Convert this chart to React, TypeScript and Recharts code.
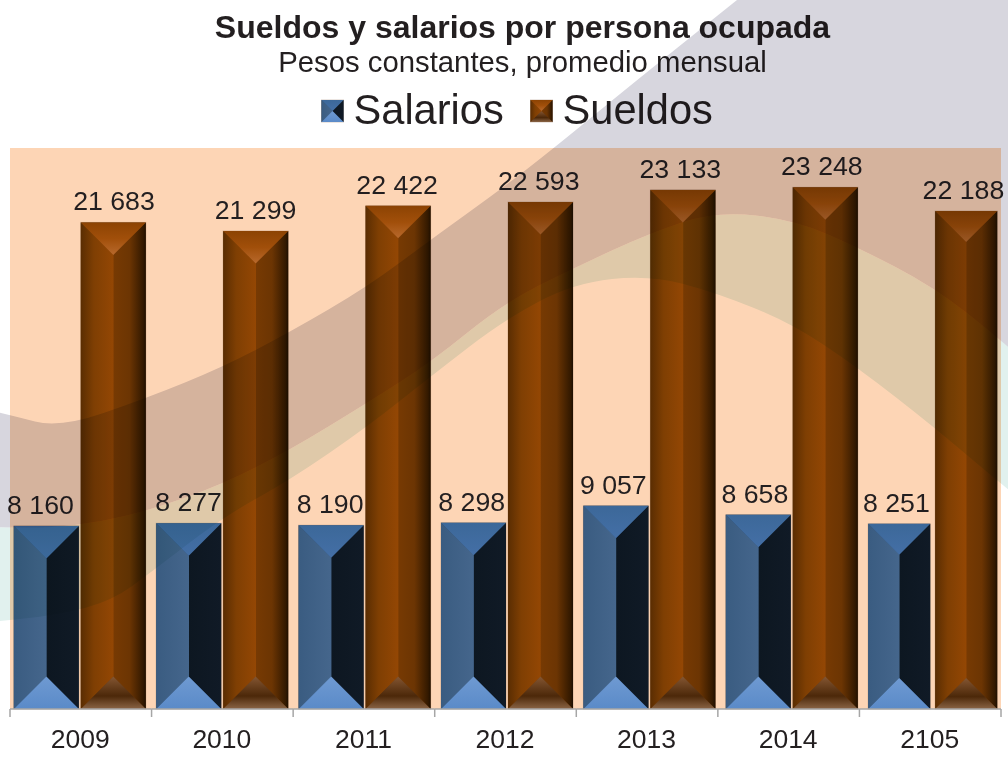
import React from "react";
import { BarChart, Bar, XAxis, YAxis, LabelList, Legend } from "recharts";

const years = ["2009", "2010", "2011", "2012", "2013", "2014", "2105"];
const salarios = [8160, 8277, 8190, 8298, 9057, 8658, 8251];
const sueldos = [21683, 21299, 22422, 22593, 23133, 23248, 22188];
const data = years.map((year, i) => ({ year, salarios: salarios[i], sueldos: sueldos[i] }));

const FONT = "'Liberation Sans', Arial, sans-serif";
const INK = "#231f20";
const PLOT = { left: 10, right: 1001, top: 148, bottom: 709 };
const BAND = (PLOT.right - PLOT.left) / years.length;

// Decorative backdrop swooshes (no data)
const lavenderTop: number[][] = [[-20, 408], [10, 415], [60, 428], [147, 398], [223, 367], [290, 332], [367, 287], [433, 238], [504, 187], [554, 148], [637, 80], [737, 0]];
const lavenderBottom: number[][] = [[-20, 527], [50, 528], [100, 522], [150, 510], [221, 485], [290, 450], [367, 403], [430, 363], [504, 303], [576, 267], [650, 233], [717, 211], [794, 220], [857, 247], [934, 287], [1001, 340], [1028, 364]];
const tealBottom: number[][] = [[-20, 623], [60, 615], [113, 600], [150, 573], [223, 517], [290, 480], [367, 427], [430, 377], [504, 320], [574, 283], [650, 275], [717, 293], [791, 323], [857, 367], [934, 427], [1001, 484], [1028, 505]];

function smooth(pts: number[][], move = true) {
  let d = `${move ? "M" : "L"}${pts[0][0]},${pts[0][1]}`;
  for (let i = 1; i < pts.length - 1; i++) {
    const mx = (pts[i][0] + pts[i + 1][0]) / 2;
    const my = (pts[i][1] + pts[i + 1][1]) / 2;
    d += ` Q${pts[i][0]},${pts[i][1]} ${mx},${my}`;
  }
  const last = pts[pts.length - 1];
  return d + ` L${last[0]},${last[1]}`;
}
const rev = (p: number[][]) => [...p].reverse();
const lavenderPath = `${smooth(lavenderTop)} L1028,0 ${smooth(rev(lavenderBottom), false)} Z`;
const tealPath = `${smooth(lavenderBottom)} ${smooth(rev(tealBottom), false)} Z`;

type Tone = "blue" | "brown";

function Gradients() {
  const g = (id: string, v: boolean, stops: [number, string][]) => (
    <linearGradient id={id} x1="0" y1="0" x2={v ? "0" : "1"} y2={v ? "1" : "0"}>
      {stops.map(([o, c]) => <stop key={o} offset={o} stopColor={c} />)}
    </linearGradient>
  );
  return (
    <defs>
      {g("blue-left", false, [[0, "#3a5c81"], [1, "#45668c"]])}
      {g("blue-right", false, [[0, "#0d1721"], [1, "#101a26"]])}
      {g("blue-top", true, [[0, "#3c6899"], [1, "#446fa6"]])}
      {g("blue-bottom", true, [[0, "#6f9ad2"], [1, "#5a8ac8"]])}
      {g("brown-left", false, [[0, "#5a2d02"], [0.4, "#7f3f03"], [1, "#944704"]])}
      {g("brown-right", false, [[0, "#773a03"], [0.5, "#6c3503"], [0.92, "#331900"], [1, "#1f0f00"]])}
      {g("brown-top", true, [[0, "#8c4303"], [0.5, "#a14f0a"], [1, "#b8692c"]])}
      {g("brown-bottom", true, [[0, "#845632"], [0.6, "#4c2809"], [1, "#8a6445"]])}
    </defs>
  );
}

function Bevel({ x, y, w, h, tone }: { x: number; y: number; w: number; h: number; tone: Tone }) {
  const d = Math.min(w / 2, h / 2);
  const cx = x + w / 2;
  const r = x + w;
  const b = y + h;
  const base = tone === "blue" ? "#263f5a" : "#6a3403";
  return (
    <g>
      <rect x={x} y={y} width={w} height={h} fill={base} stroke="#8a6a52" strokeOpacity={0.35} strokeWidth={1} />
      <polygon points={`${r},${y} ${cx},${y + d} ${cx},${b - d} ${r},${b}`} fill={`url(#${tone}-right)`} />
      <polygon points={`${x},${y} ${cx + 0.3},${y + d} ${cx + 0.3},${b - d} ${x},${b}`} fill={`url(#${tone}-left)`} />
      <polygon points={`${x},${y} ${r},${y} ${cx},${y + d}`} fill={`url(#${tone}-top)`} />
      <polygon points={`${x},${b} ${r},${b} ${cx},${b - d}`} fill={`url(#${tone}-bottom)`} />
    </g>
  );
}

const LAST_WIDTH = 62;
const barShape = (tone: Tone) => (p: any) => (
  <Bevel x={p.x} y={p.y} w={p.index === years.length - 1 ? LAST_WIDTH : p.width} h={p.height} tone={tone} />
);

const fmt = (v: number) => String(v).replace(/\B(?=(\d{3})+$)/g, " ");

// Labels sit on the category band at a fixed step from its left edge; the very first one is nudged left as in the source
const valueLabel = (inset: number, firstNudge = 0) => (p: any) => {
  const cx = PLOT.left + BAND * p.index + inset + (p.index === 0 ? firstNudge : 0);
  return (
    <text x={cx} y={p.y - 12} textAnchor="middle" fontFamily={FONT} fontSize={26.7} fill={INK}>
      {fmt(p.value)}
    </text>
  );
};

const AxisTick = (p: any) => {
  const { x, payload, index } = p;
  const l = x - BAND / 2;
  const isLast = index === years.length - 1;
  return (
    <g>
      <line x1={l} x2={l + BAND} y1={PLOT.bottom} y2={PLOT.bottom} stroke="#a6a6a6" strokeWidth={1.5} />
      <line x1={l} x2={l} y1={PLOT.bottom} y2={PLOT.bottom + 8} stroke="#a6a6a6" strokeWidth={1.5} />
      {isLast && <line x1={l + BAND} x2={l + BAND} y1={PLOT.bottom} y2={PLOT.bottom + 8} stroke="#a6a6a6" strokeWidth={1.5} />}
      <text x={x - 0.5} y={PLOT.bottom + 39} textAnchor="middle" fontFamily={FONT} fontSize={26.5} fill={INK}>
        {payload.value}
      </text>
    </g>
  );
};

const legendPlaces = [
  { swatch: 321.5, text: 353.5 },
  { swatch: 530.5, text: 562.5 },
];
const LegendContent = (p: any) => (
  <svg width={1008} height={60} style={{ display: "block", overflow: "visible" }}>
    {(p.payload || []).map((e: any, i: number) => (
      <g key={e.value}>
        <Bevel x={legendPlaces[i].swatch} y={15} w={22} h={22} tone={i === 0 ? "blue" : "brown"} />
        <text x={legendPlaces[i].text} y={39} fontFamily={FONT} fontSize={41.6} fill={INK}>{e.value}</text>
      </g>
    ))}
  </svg>
);

export default function App() {
  return (
    <div style={{ position: "absolute", left: 0, top: 0, width: 1008, height: 757, overflow: "hidden", background: "#fff", isolation: "isolate" }}>
      <svg width={1008} height={757} style={{ position: "absolute", left: 0, top: 0 }}>
        <rect x={PLOT.left} y={PLOT.top} width={PLOT.right - PLOT.left} height={PLOT.bottom - PLOT.top} fill="#fdd5b5" />
      </svg>
      <div style={{ position: "absolute", left: 0, top: 0 }}>
        <BarChart
          width={1008}
          height={757}
          data={data}
          barSize={65}
          barGap={2}
          margin={{ top: PLOT.top, bottom: 0, left: 8.8, right: 2.4 }}
        >
          <Gradients />
          <text x={522.5} y={38} textAnchor="middle" fontFamily={FONT} fontSize={32} fontWeight="bold" fill={INK}>
            Sueldos y salarios por persona ocupada
          </text>
          <text x={522.5} y={72} textAnchor="middle" fontFamily={FONT} fontSize={29.3} fill={INK}>
            Pesos constantes, promedio mensual
          </text>
          <XAxis xAxisId="bars" dataKey="year" hide />
          <XAxis
            xAxisId="visible"
            dataKey="year"
            height={48}
            padding={{ left: 1.2, right: 4.6 }}
            axisLine={false}
            tickLine={false}
            interval={0}
            tick={AxisTick}
          />
          <YAxis hide domain={[0, 25000]} />
          <Legend
            layout="horizontal"
            verticalAlign="middle"
            content={LegendContent}
            wrapperStyle={{ position: "absolute", left: 0, top: 85, width: 1008, height: 60 }}
          />
          <Bar xAxisId="bars" dataKey="salarios" name="Salarios" fill="#3f6c9f" isAnimationActive={false} shape={barShape("blue")}>
            <LabelList dataKey="salarios" content={valueLabel(37, -6.5)} />
          </Bar>
          <Bar xAxisId="bars" dataKey="sueldos" name="Sueldos" fill="#8f4504" isAnimationActive={false} shape={barShape("brown")}>
            <LabelList dataKey="sueldos" content={valueLabel(104)} />
          </Bar>
        </BarChart>
      </div>
      <svg width={1008} height={757} style={{ position: "absolute", left: 0, top: 0, mixBlendMode: "multiply", pointerEvents: "none" }}>
        <path d={tealPath} fill="#e1f1ee" />
        <path d={lavenderPath} fill="#d7d6de" />
      </svg>
    </div>
  );
}
